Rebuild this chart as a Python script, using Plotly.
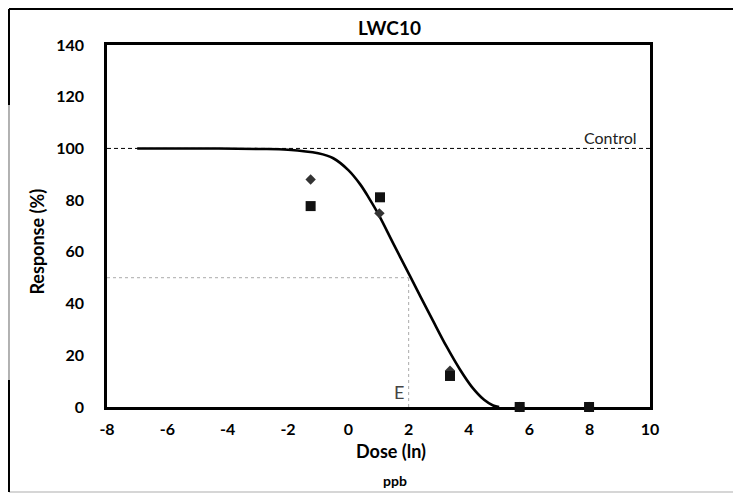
import plotly.graph_objects as go

# ---- data ----
dose_sq = [-1.25, 1.05, 3.37, 5.68, 7.98]
resp_sq = [77.7, 81.1, 12.0, 0.0, 0.0]

dose_dm = [-1.25, 1.03, 3.37, 5.68, 7.98]
resp_dm = [88.0, 74.9, 14.0, 0.0, 0.0]

fit_dose = [-7.0, -5.0, -3.0, -2.0, -1.0, -0.5, 0.0, 0.4, 0.7, 1.0, 1.5, 2.05,
            2.4, 2.8, 3.25, 3.7, 4.1, 4.5, 4.8, 5.0]
fit_resp = [100.0, 100.0, 99.8, 99.5, 98.1, 96.2, 91.6, 86.0, 80.5, 74.5, 63.0,
            50.5, 42.5, 33.5, 23.5, 14.5, 7.7, 2.8, 0.6, 0.0]

control_level = 100
e50_dose = 2.0
e50_resp = 50

x_ticks = [-8, -6, -4, -2, 0, 2, 4, 6, 8, 10]
y_ticks = [0, 20, 40, 60, 80, 100, 120, 140]

FONT = "Lato"

fig = go.Figure()

# fitted curve
fig.add_trace(go.Scatter(
    x=fit_dose, y=fit_resp, mode="lines",
    line=dict(color="black", width=2.6, shape="spline", smoothing=1.0),
    hoverinfo="skip", showlegend=False))

# data: diamonds and squares
fig.add_trace(go.Scatter(
    x=dose_dm, y=resp_dm, mode="markers", cliponaxis=False,
    marker=dict(symbol="diamond", size=8, color="#333333"),
    showlegend=False))
fig.add_trace(go.Scatter(
    x=dose_sq, y=resp_sq, mode="markers", cliponaxis=False,
    marker=dict(symbol="square", size=10, color="#111111"),
    showlegend=False))

# control dashed line
fig.add_shape(type="line", xref="x", yref="y", x0=-8, x1=10,
              y0=control_level, y1=control_level,
              line=dict(color="black", width=1, dash="4px,3px"), layer="below")
# EC50 guide lines
fig.add_shape(type="line", xref="x", yref="y", x0=-8, x1=e50_dose,
              y0=e50_resp, y1=e50_resp,
              line=dict(color="#aaaaaa", width=1, dash="dot"), layer="below")
fig.add_shape(type="line", xref="x", yref="y", x0=e50_dose, x1=e50_dose,
              y0=0, y1=e50_resp,
              line=dict(color="#aaaaaa", width=1, dash="dot"), layer="below")

# outer border (paper coords)
L, R, T, B = -0.1805, 1.17, 1.0994, -0.2348
fig.add_shape(type="line", xref="paper", yref="paper", x0=L, x1=R, y0=T, y1=T,
              line=dict(color="black", width=2))
fig.add_shape(type="line", xref="paper", yref="paper", x0=L, x1=R, y0=B, y1=B,
              line=dict(color="#c8c8c8", width=1.5))
fig.add_shape(type="line", xref="paper", yref="paper", x0=L, x1=L, y0=B, y1=T,
              line=dict(color="#999999", width=1.5))
fig.add_shape(type="line", xref="paper", yref="paper", x0=L, x1=L, y0=0.834, y1=T,
              line=dict(color="black", width=2))
fig.add_shape(type="line", xref="paper", yref="paper", x0=L, x1=L, y0=B, y1=0.0746,
              line=dict(color="black", width=2))

# annotations
fig.add_annotation(x=10, y=control_level, xref="x", yref="y", text="Control",
                   showarrow=False, xanchor="right", yanchor="bottom",
                   xshift=-11, yshift=-1,
                   font=dict(family=FONT, size=16, color="#222222"))
fig.add_annotation(x=1.67, y=5.9, xref="x", yref="y", text="E",
                   showarrow=False, xanchor="center", yanchor="middle",
                   font=dict(family=FONT, size=18, color="#444444"))
fig.add_annotation(x=0.521, y=1.0497, xref="paper", yref="paper", text="LWC10",
                   showarrow=False, xanchor="center", yanchor="middle",
                   font=dict(family=FONT, size=19, color="black", weight="bold"))
fig.add_annotation(x=-0.1295, y=0.456, xref="paper", yref="paper", text="Response (%)",
                   showarrow=False, textangle=-90, xanchor="center", yanchor="middle",
                   font=dict(family=FONT, size=18, color="black", weight="bold"))
fig.add_annotation(x=0.523, y=-0.1215, xref="paper", yref="paper", text="Dose (ln)",
                   showarrow=False, xanchor="center", yanchor="middle",
                   font=dict(family=FONT, size=18, color="black", weight="bold"))
fig.add_annotation(x=0.530, y=-0.2017, xref="paper", yref="paper", text="ppb",
                   showarrow=False, xanchor="center", yanchor="middle",
                   font=dict(family=FONT, size=14, color="black", weight="bold"))

axis_common = dict(showline=True, linecolor="black", linewidth=2.6, mirror=True,
                   showgrid=False, zeroline=False, ticks="", layer="below traces",
                   tickfont=dict(family=FONT, size=16, color="black", weight="bold"))

fig.update_xaxes(range=[-8, 10], tickvals=x_ticks, ticktext=[str(v) for v in x_ticks],
                 ticklabelstandoff=6, **axis_common)
fig.update_yaxes(range=[0, 140], tickvals=y_ticks, ticktext=[str(v) for v in y_ticks],
                 ticklabelstandoff=17, **axis_common)

# page body has an 8px default margin, so the figure is offset by 8px
fig.update_layout(
    width=733, height=485,
    margin=dict(l=99, r=91, t=37, b=86),
    paper_bgcolor="white", plot_bgcolor="white",
    showlegend=False,
)

fig.write_html("out.html")
